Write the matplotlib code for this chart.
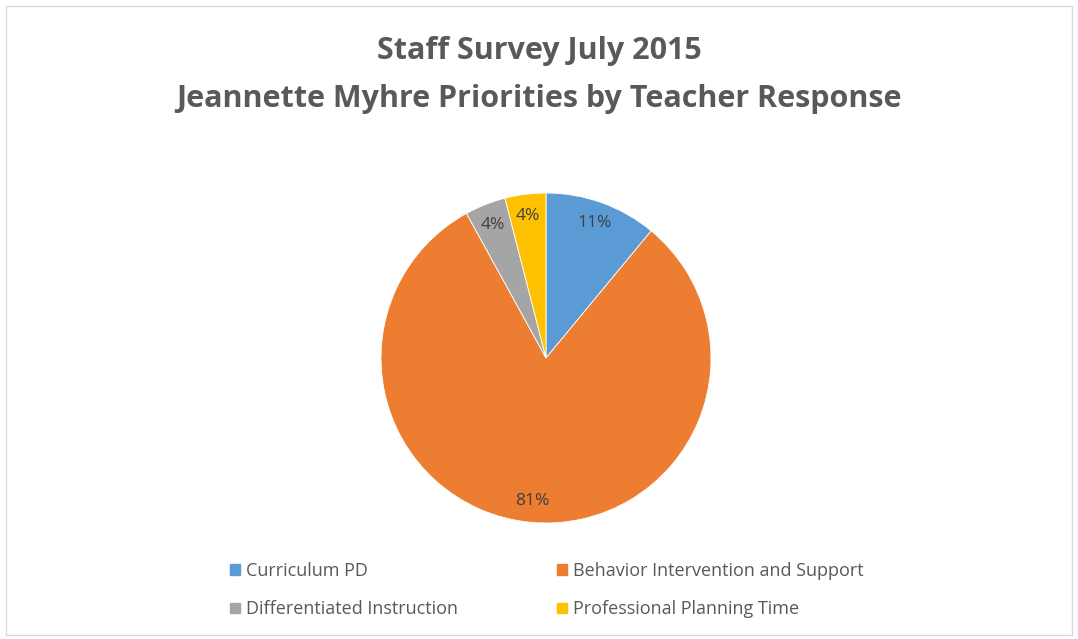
import matplotlib.pyplot as plt
from matplotlib.patches import Rectangle

# data
categories = ['Curriculum PD', 'Behavior Intervention and Support',
              'Differentiated Instruction', 'Professional Planning Time']
values = [11, 81, 4, 4]
colors = ['#5B9BD5', '#ED7D31', '#A5A5A5', '#FFC000']
title = 'Staff Survey July 2015\nJeannette Myhre Priorities by Teacher Response'

plt.rcParams['font.family'] = ['Open Sans', 'DejaVu Sans']

W, H = 1078, 639
fig = plt.figure(figsize=(W / 100, H / 100), dpi=100)
fig.patch.set_facecolor('white')

# light chart border
fig.patches.append(Rectangle((6 / W, 4 / H), (W - 12) / W, (H - 10) / H,
                             transform=fig.transFigure, fill=False,
                             edgecolor='#D9D9D9', lw=1))

cx, cy, r = 546, 358, 165
ax = fig.add_axes([(cx - r) / W, (H - cy - r) / H, 2 * r / W, 2 * r / H])
wedges, texts, autotexts = ax.pie(
    values, colors=colors, startangle=90, counterclock=False,
    autopct='%1.0f%%', pctdistance=0.87, radius=1,
    wedgeprops=dict(edgecolor='white', linewidth=0.6),
    textprops=dict(color='#404040', fontsize=12.5))
ax.set_xlim(-1, 1)
ax.set_ylim(-1, 1)
ax.set_aspect('equal')
ax.axis('off')

fig.text(0.5, 1 - 75 / H, title, ha='center', va='center',
         fontsize=22, fontweight='bold', color='#595959', linespacing=1.8)

# legend, filled row by row (matplotlib fills columns first)
order = [0, 2, 1, 3]
handles = [Rectangle((0, 0), 1, 1, color=colors[i]) for i in order]
labels = [categories[i] for i in order]
fig.legend(handles, labels, ncol=2, loc='center left',
           bbox_to_anchor=(230 / W, 1 - 590 / H), frameon=False,
           borderpad=0, borderaxespad=0,
           fontsize=13, labelcolor='#595959', handlelength=0.55,
           handleheight=0.55, handletextpad=0.35, columnspacing=5.45,
           labelspacing=1.15)

fig.savefig('out.png', dpi=100)
